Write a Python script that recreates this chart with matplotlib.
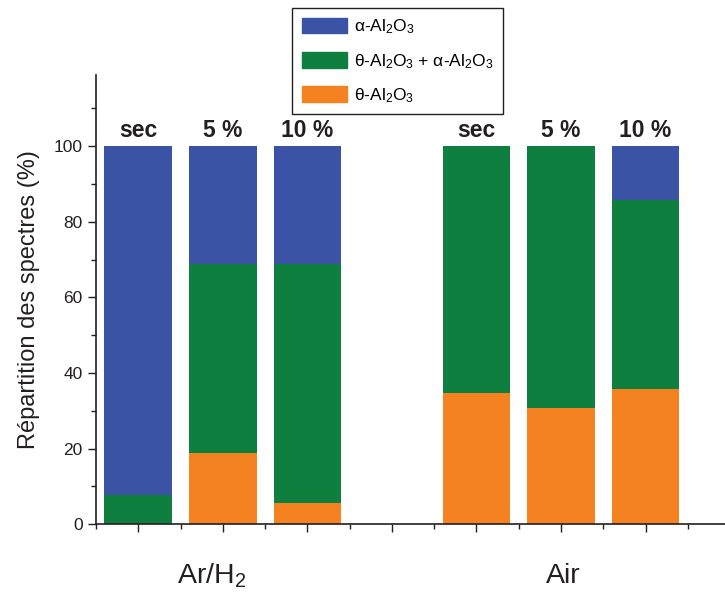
import matplotlib
matplotlib.use("Agg")
import matplotlib.pyplot as plt
from matplotlib.patches import Patch
from matplotlib.ticker import MultipleLocator

plt.rcParams['font.family'] = ['Liberation Sans', 'DejaVu Sans']
plt.rcParams['mathtext.fontset'] = 'custom'
plt.rcParams['mathtext.rm'] = 'Liberation Sans'
plt.rcParams['mathtext.it'] = 'Liberation Sans:italic'

# Data
positions = [1, 2, 3, 5, 6, 7]
bar_labels = ['sec', '5 %', '10 %', 'sec', '5 %', '10 %']
theta = [0, 18.8, 5.6, 34.8, 30.7, 35.8]           # theta-Al2O3 (bottom)
theta_alpha = [7.7, 50.0, 63.2, 65.2, 69.3, 50.0]  # theta + alpha (middle)
alpha = [92.3, 31.2, 31.2, 0, 0, 14.2]             # alpha-Al2O3 (top)
groups = ['Ar/H$_2$', 'Air']
group_pos = [1.87, 6.03]

c_alpha = '#3a53a4'
c_mix = '#0e7f3e'
c_theta = '#f58220'

fig = plt.figure(figsize=(7.25, 5.92), dpi=100)
ax = fig.add_axes([96/725, 1-524.3/592, 1-96/725, (524.3-75)/592])

bottom2 = [a + b for a, b in zip(theta, theta_alpha)]
ax.bar(positions, theta, width=0.8, color=c_theta)
ax.bar(positions, theta_alpha, width=0.8, bottom=theta, color=c_mix)
ax.bar(positions, alpha, width=0.8, bottom=bottom2, color=c_alpha)

for x, lab in zip(positions, bar_labels):
    ax.text(x, 101.0, lab, ha='center', va='bottom', fontsize=16.5, fontweight='bold', color='#231f20')

ax.set_xlim(0.5, 7.94)
ax.set_ylim(0, 118.8)
ax.set_xticks(positions + [4])
ax.set_xticklabels([])
ax.xaxis.set_minor_locator(MultipleLocator(1, offset=0.5))
ax.yaxis.set_minor_locator(MultipleLocator(10))
ax.set_yticks([0, 20, 40, 60, 80, 100])
ax.tick_params(axis='both', which='major', length=6, width=1, direction='out', labelsize=12.5, colors='#231f20')
ax.tick_params(axis='both', which='minor', length=3.5, width=1, direction='out', colors='#231f20')
for s in ['top', 'right']:
    ax.spines[s].set_visible(False)
for s in ['left', 'bottom']:
    ax.spines[s].set_linewidth(1.2)
    ax.spines[s].set_color('#231f20')

ax.set_ylabel('Répartition des spectres (%)', fontsize=17, color='#231f20', labelpad=10)

for g, gx in zip(groups, group_pos):
    ax.text(gx, -0.115, g, transform=ax.get_xaxis_transform(), ha='center', va='center', fontsize=20.5, color='#231f20')

handles = [Patch(color=c_alpha), Patch(color=c_mix), Patch(color=c_theta)]
labels = ['α-Al$_2$O$_3$', 'θ-Al$_2$O$_3$ + α-Al$_2$O$_3$', 'θ-Al$_2$O$_3$']
leg = fig.legend(handles, labels, loc='upper left', bbox_to_anchor=(292/725, 1-8/592),
                 borderaxespad=0, fontsize=12.5, frameon=True, fancybox=False,
                 edgecolor='#231f20', framealpha=1, handlelength=2.6, handleheight=1.0,
                 handletextpad=0.4, labelspacing=0.9, borderpad=0.55)
leg.get_frame().set_linewidth(1.0)

fig.savefig('out.png', dpi=100)
